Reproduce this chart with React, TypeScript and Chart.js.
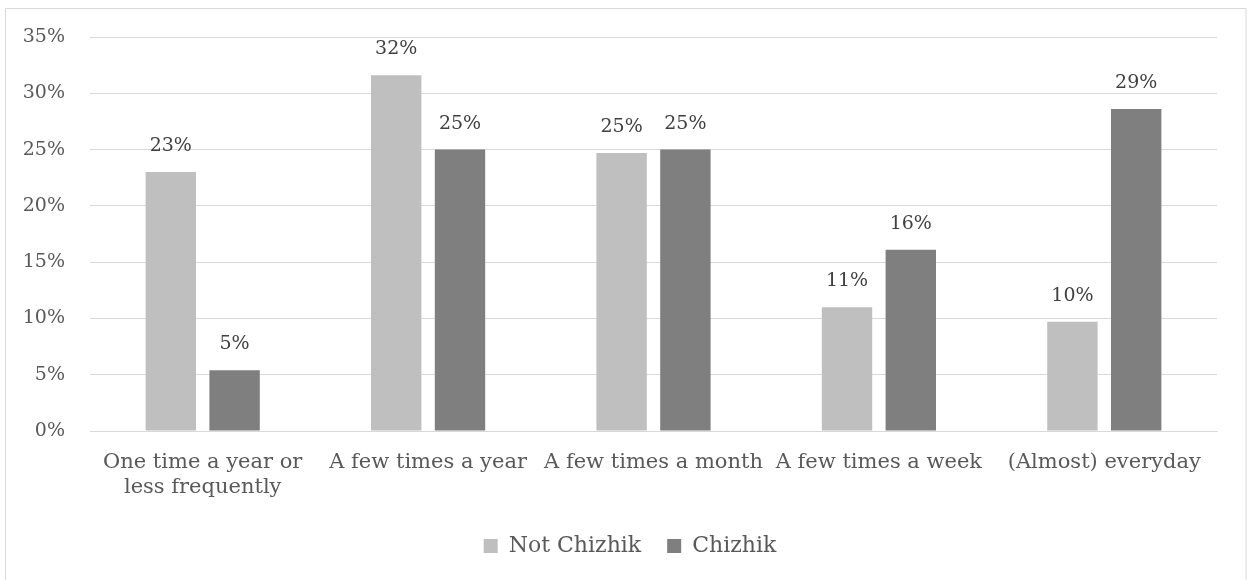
import React, { useEffect, useRef } from "react";
import { Chart, registerables } from "chart.js";

Chart.register(...registerables);

const categories: (string | string[])[] = [
  ["One time a year or", "less frequently"],
  "A few times a year",
  "A few times a month",
  "A few times a week",
  "(Almost) everyday",
];
const notChizhik = [23.0, 31.6, 24.7, 11.0, 9.7];
const chizhik = [5.4, 25.0, 25.0, 16.1, 28.6];
const seriesNames = ["Not Chizhik", "Chizhik"];
const yMin = 0;
const yMax = 35;
const yStep = 5;

const FONT = "'DejaVu Serif', serif";

const frame = {
  id: "frame",
  beforeDraw(chart: any) {
    const ctx = chart.ctx;
    ctx.save();
    ctx.fillStyle = "#ffffff";
    ctx.fillRect(0, 0, chart.width, chart.height);
    ctx.strokeStyle = "#D9D9D9";
    ctx.lineWidth = 1;
    ctx.strokeRect(5.5, 8.5, 1240.5, 620);
    ctx.restore();
  },
};

const legendShift = {
  id: "legendShift",
  afterLayout(chart: any) {
    const lg = chart.legend;
    if (lg) {
      lg.left = 43;
      lg.right = 1217;
      lg.width = lg.right - lg.left;
    }
  },
};

const dataLabels = {
  id: "dataLabels",
  afterDatasetsDraw(chart: any) {
    const ctx = chart.ctx;
    ctx.save();
    ctx.font = `19px ${FONT}`;
    ctx.fillStyle = "#404040";
    ctx.textAlign = "center";
    ctx.textBaseline = "middle";
    chart.data.datasets.forEach((ds: any, di: number) => {
      const meta = chart.getDatasetMeta(di);
      meta.data.forEach((el: any, i: number) => {
        const v = ds.data[i];
        ctx.fillText(Math.round(v) + "%", el.x, el.y - 26);
      });
    });
    ctx.restore();
  },
};

export default function App() {
  const ref = useRef<HTMLCanvasElement>(null);
  useEffect(() => {
    if (!ref.current) return;
    const chart = new Chart(ref.current, {
      type: "bar",
      data: {
        labels: categories,
        datasets: [
          {
            label: seriesNames[0],
            data: notChizhik,
            backgroundColor: "#BFBFBF",
            categoryPercentage: 0.566,
            barPercentage: 0.79,
          },
          {
            label: seriesNames[1],
            data: chizhik,
            backgroundColor: "#7F7F7F",
            categoryPercentage: 0.566,
            barPercentage: 0.79,
          },
        ],
      },
      options: {
        responsive: false,
        animation: false,
        layout: { padding: { top: 37, left: 0, right: 35, bottom: 13 } },
        scales: {
          x: {
            grid: { display: false, drawTicks: false },
            border: { display: true, color: "#D9D9D9", width: 1 },
            ticks: {
              color: "#595959",
              font: { family: FONT, size: 21 },
              padding: 19,
              maxRotation: 0,
              minRotation: 0,
              autoSkip: false,
            },
            afterFit: (scale: any) => {
              scale.height = 78;
            },
          },
          y: {
            min: yMin,
            max: yMax,
            grid: { color: "#D9D9D9", drawTicks: false, lineWidth: 1 },
            border: { display: false },
            ticks: {
              stepSize: yStep,
              color: "#595959",
              font: { family: FONT, size: 19 },
              padding: 25,
              callback: (v: any) => v + "%",
            },
            afterFit: (scale: any) => {
              scale.width = 90;
            },
          },
        },
        plugins: {
          legend: {
            position: "bottom",
            labels: {
              color: "#595959",
              font: { family: FONT, size: 22 },
              boxWidth: 14,
              boxHeight: 14,
              padding: 26,
            },
          },
          tooltip: { enabled: false },
        },
      },
      plugins: [frame, legendShift, dataLabels],
    });
    return () => chart.destroy();
  }, []);
  return (
    <div style={{ position: "absolute", left: 0, top: 0, width: 1252, height: 580 }}>
      <canvas ref={ref} width={1252} height={580} style={{ display: "block" }} />
    </div>
  );
}
